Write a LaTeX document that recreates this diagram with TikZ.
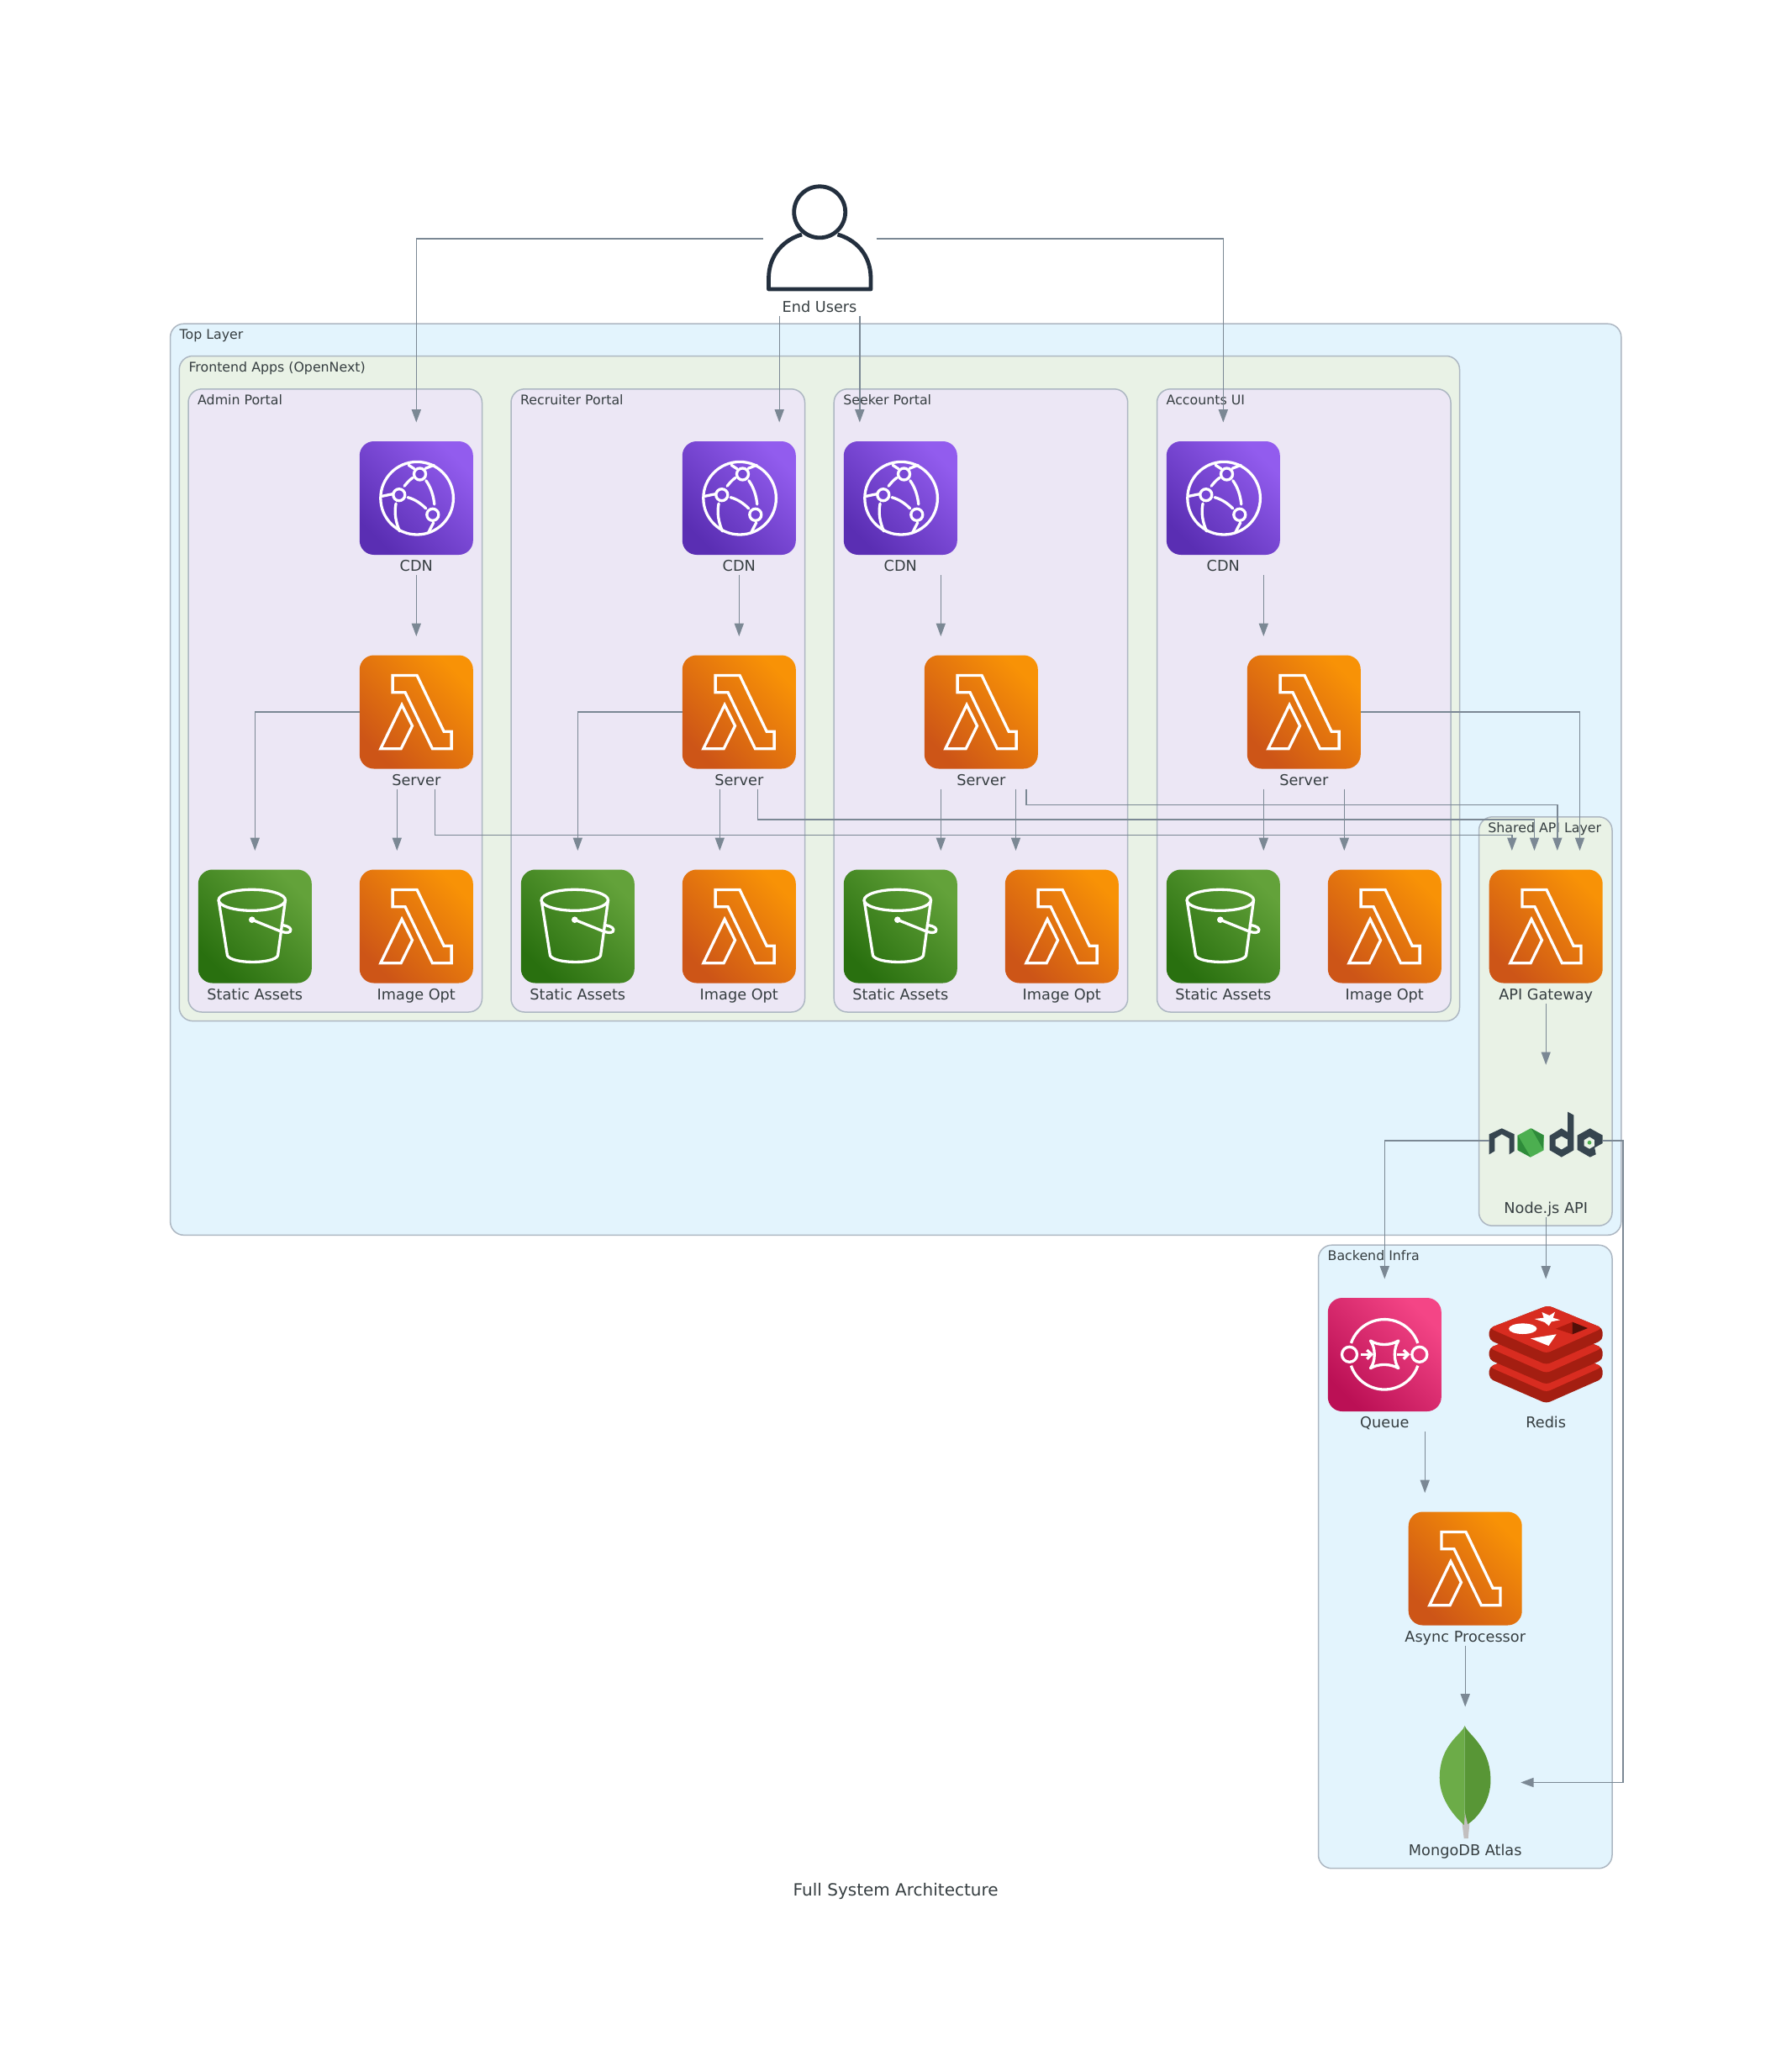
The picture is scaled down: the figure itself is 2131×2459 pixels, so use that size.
\documentclass[tikz,border=0pt]{standalone}
\usepackage{fontspec}
\setmainfont{DejaVu Sans}
\usetikzlibrary{arrows.meta}

\definecolor{edgegray}{HTML}{7B8894}
\definecolor{inkgray}{HTML}{363E41}
\definecolor{bordergray}{HTML}{ADB7C2}
\definecolor{blueback}{HTML}{E3F4FD}
\definecolor{greenback}{HTML}{E9F2E6}
\definecolor{purpleback}{HTML}{ECE7F5}
\definecolor{usernavy}{HTML}{232F3E}
\definecolor{lamlow}{HTML}{CD5517}
\definecolor{lamhigh}{HTML}{F89206}
\definecolor{cdnlow}{HTML}{5A2EB3}
\definecolor{cdnhigh}{HTML}{925CEE}
\definecolor{cdnmid}{HTML}{7646D4}
\definecolor{s3low}{HTML}{29700F}
\definecolor{s3high}{HTML}{63A23A}
\definecolor{sqslow}{HTML}{BB1055}
\definecolor{sqshigh}{HTML}{F44586}
\definecolor{redisdark}{HTML}{A41E11}
\definecolor{redislight}{HTML}{D82C20}
\definecolor{nodeink}{HTML}{36454F}
\definecolor{nodegreen}{HTML}{4CAF50}
\definecolor{nodeshade}{HTML}{2E8B3A}
\definecolor{leafleft}{HTML}{6CAC48}
\definecolor{leafright}{HTML}{589636}
\definecolor{leafstem}{HTML}{C2BFBF}

\tikzset{
  flow/.style={edgegray, line width=1.4pt, shorten >=-1.5pt, -{Triangle[length=15.3pt,width=11pt]}},
  cluster/.style={draw=bordergray, line width=1.5pt, rounded corners=16pt},
  grplbl/.style={anchor=base west, inner sep=0pt, text=inkgray, font=\fontsize{15.8pt}{18pt}\selectfont},
  lbl/.style={anchor=base, inner sep=0pt, text=inkgray, font=\fontsize{17.7pt}{20pt}\selectfont},
  svc/.style={minimum width=135pt, minimum height=135pt, inner sep=0pt, outer xsep=0pt, outer ysep=24pt, xshift=0.5pt},
  glyph/.style={draw=white, line width=3.3pt, fill=none},
  tile/.style={rounded corners=17pt, shading angle=-45},
  lambdaicon/.pic={
    \begin{scope}[shift={(-67.5,-67.5)}]
      \shade[bottom color=lamlow, top color=lamhigh, tile] (0,0) rectangle (135,135);
      \draw[glyph] (39.3,24) -- (68.3,24) -- (100.3,90.7) -- (109.3,90.7) -- (109.3,111.3) -- (86.7,111.3) -- (54.3,44.3) -- (39.3,44.3) -- cycle;
      \draw[glyph] (25,111.3) -- (50.3,59) -- (62.7,84) -- (49.3,111.3) -- cycle;
    \end{scope}
  },
  cdnicon/.pic={
    \begin{scope}[shift={(-67.5,-67.5)}]
      \shade[bottom color=cdnlow, top color=cdnhigh, tile] (0,0) rectangle (135,135);
      \draw[glyph] (68.3,67.7) circle[radius=43.3pt];
      \draw[glyph, fill=cdnmid] (71.7,39) circle[radius=7pt];
      \draw[glyph, fill=cdnmid] (47,63.7) circle[radius=7pt];
      \draw[glyph, fill=cdnmid] (87,87.3) circle[radius=7pt];
      \draw[glyph, line cap=round] (63.3,43.3) .. controls (59,46) and (56,50) .. (53.3,53.3);
      \draw[glyph, line cap=round] (79,46.7) .. controls (85,55) and (88,65) .. (89,75);
      \draw[glyph, line cap=round] (57.3,66.7) .. controls (66,69) and (73,74) .. (79,80);
      \draw[glyph, line cap=round] (26.7,65.3) -- (39.3,62.7);
      \draw[glyph, line cap=round] (43.3,74) .. controls (41,85) and (43,96) .. (47.7,107);
      \draw[glyph, line cap=round] (58.3,28.3) -- (65,32.7);
      \draw[glyph, line cap=round] (78.3,32.3) -- (88.3,28.3);
      \draw[glyph, line cap=round] (88,96.7) -- (82,108.3);
    \end{scope}
  },
  bucketicon/.pic={
    \begin{scope}[shift={(-67.5,-67.5)}]
      \shade[bottom color=s3low, top color=s3high, tile] (0,0) rectangle (135,135);
      \draw[glyph] (64,36.3) ellipse[x radius=39.7pt, y radius=12.5pt];
      \draw[glyph, line join=round] (24.3,36.3) -- (34.7,102.3) .. controls (40,112.5) and (90,112.5) .. (94.7,102.3) -- (103.7,36.3);
      \draw[glyph, line join=round] (64,59.7) -- (97,73) .. controls (105,76) and (111,75.5) .. (110,71) .. controls (109,68) and (103,66) .. (98,66);
      \fill[white] (64,59.7) circle[radius=3.8pt];
    \end{scope}
  },
  queueicon/.pic={
    \begin{scope}[shift={(-67.5,-67.5)}]
      \shade[bottom color=sqslow, top color=sqshigh, tile] (0,0) rectangle (135,135);
      \draw[glyph] (27.6,53.9) arc[start angle=161, end angle=19, radius=42pt];
      \draw[glyph] (27.6,80.7) arc[start angle=199, end angle=341, radius=42pt];
      \draw[glyph] (25.7,67.3) circle[radius=9pt];
      \draw[glyph] (109,67.3) circle[radius=9pt];
      \draw[glyph, line join=round] (50.7,51) .. controls (60,57) and (74,57) .. (84,51) .. controls (78,60) and (78,75) .. (84,83.7) .. controls (74,78) and (60,78) .. (50.7,83.7) .. controls (57,75) and (57,60) .. cycle;
      \draw[glyph] (39,67.3) -- (51,67.3);
      \draw[glyph] (46.5,62) -- (52,67.3) -- (46.5,72.6);
      \draw[glyph] (82.3,67.3) -- (94.5,67.3);
      \draw[glyph] (90,62) -- (95.5,67.3) -- (90,72.6);
    \end{scope}
  },
  redisicon/.pic={
    \begin{scope}[shift={(-67.5,-67.5)}, line join=round]
      % three layers, lowest first
      \foreach \lift in {46,23.5,0} {
        \fill[redisdark, rounded corners=5pt] (0,36+\lift) -- (70,9+\lift) -- (135,36+\lift) -- (135,50+\lift) -- (68,79.5+\lift) -- (0,50+\lift) -- cycle;
        \fill[redislight, rounded corners=5pt] (0,36+\lift) -- (70,9+\lift) -- (135,36+\lift) -- (68,66+\lift) -- cycle;
      }
      \fill[white] (54,25) -- (65,23.7) -- (62.7,17) -- (71.7,21) -- (78.3,16.7) -- (76,23.7) -- (84.3,26.3) -- (74,28.3) -- (71,33.3) -- (66,29) -- cycle;
      \fill[white] (40,36.7) ellipse[x radius=16.7pt, y radius=6.3pt];
      \fill[white] (49.3,48.3) -- (80,43.3) -- (70.7,57) -- cycle;
      \fill[redisdark!90!red] (79.3,36.7) -- (99,28.7) -- (99,43.3) -- cycle;
      \fill[black!50!redisdark] (99,28.7) -- (117.3,36) -- (99,43.3) -- cycle;
    \end{scope}
  },
  nodeicon/.pic={
    \begin{scope}[shift={(-67.5,-67.5)}]
      \fill[nodeink] (0,60) -- (15,53) -- (30,60) -- (30,80) -- (24,84) -- (24,65) -- (15,60) -- (6.7,65) -- (6.7,80) -- (0,84) -- cycle;
      \fill[nodegreen] (49.3,53) -- (65,61.3) -- (65,79) -- (49.3,87.3) -- (34,79) -- (34,61.3) -- cycle;
      \fill[nodeshade] (50,53) -- (65,61.3) -- (64,77.3) -- cycle;
      \fill[nodeshade] (34,61.3) -- (49.3,87.3) -- (34,79) -- cycle;
      \fill[nodeink, even odd rule] (93.3,33.3) -- (100.7,37.3) -- (100.7,79) -- (86,87.3) -- (79,83) -- (72,79) -- (72,61.7) -- (86,53) -- (93.3,57.5) -- cycle
        (86,62.3) -- (79,66.3) -- (79,74) -- (86,78.3) -- (93.3,74) -- (93.3,66.3) -- cycle;
      \fill[nodeink, even odd rule] (105,61.3) -- (120,53) -- (135,61.3) -- (135,70.7) -- (125.5,76) -- (127,84) -- (120,87.3) -- (105,78.7) -- cycle
        (119.3,63) -- (113,66.8) -- (113,74) -- (119.3,77.5) -- (125.5,74) -- (125.5,66.8) -- cycle;
      \fill[nodegreen] (119.3,70) circle[radius=2.4pt];
    \end{scope}
  },
  mongoicon/.pic={
    \begin{scope}[shift={(-67.5,-67.5)}]
      \fill[leafstem] (64.5,105) -- (69,105) -- (72.5,118) -- (71,134) -- (66,134) -- (64,118) -- cycle;
      \fill[leafleft] (67,0) .. controls (64,10) and (37,22) .. (37,62) .. controls (37,88) and (55,108) .. (66,118) .. controls (67,110) and (67,105) .. (67,100) -- cycle;
      \fill[leafright] (67,0) .. controls (70,10) and (97.7,24) .. (97.7,65) .. controls (97.7,90) and (82,110) .. (70.5,117) .. controls (69,110) and (67,105) .. (67,100) -- cycle;
    \end{scope}
  },
  usericon/.pic={
    \begin{scope}[shift={(-67.5,-67.5)}, draw=usernavy, line width=4.8pt, line join=round]
      \draw (67.7,35.8) circle[radius=30.5pt];
      \draw (46.5,62.5) .. controls (27,68) and (7,85) .. (7,115) -- (7,127.5) -- (128.5,127.5) -- (128.5,115) .. controls (128.5,85) and (109,68) .. (89,62.5);
    \end{scope}
  },
}

\newcommand{\svcnode}[5]{
  \node[svc] (#1) at (#2,#3) {};
  \pic at (#1) {#4};
  \node[lbl] (#1txt) at ([yshift=-87pt]#1.center) {#5};
}

\begin{document}
\begin{tikzpicture}[x=1pt, y=-1pt]
  \useasboundingbox (0,0) rectangle (2131,2459);

  % Draw clusters
  \draw[cluster, fill=blueback] (202.6,385.2) rectangle (1928.8,1469.3);
  \draw[cluster, fill=greenback] (213.3,423.5) rectangle (1736.5,1214.6);
  \draw[cluster, fill=purpleback] (224,462.8) rectangle (573.5,1204);
  \draw[cluster, fill=purpleback] (608,462.8) rectangle (957.5,1204);
  \draw[cluster, fill=purpleback] (992.2,462.8) rectangle (1341.7,1204);
  \draw[cluster, fill=purpleback] (1376.5,462.8) rectangle (1726,1204);
  \draw[cluster, fill=greenback] (1759.5,971.8) rectangle (1918,1458.2);
  \draw[cluster, fill=blueback] (1568.5,1481.2) rectangle (1918,2222.7);

  \node[grplbl] (topTxt) at (213.4,403.7) {Top Layer};
  \node[grplbl] (frontTxt) at (224.3,442) {Frontend Apps (OpenNext)};
  \node[grplbl] (adminTxt) at (235,481.3) {Admin Portal};
  \node[grplbl] (recruitTxt) at (619,481.3) {Recruiter Portal};
  \node[grplbl] (seekTxt) at (1003.2,481.3) {Seeker Portal};
  \node[grplbl] (acctTxt) at (1387.5,481.3) {Accounts UI};
  \node[grplbl] (sharedTxt) at (1770.2,990.3) {Shared API Layer};
  \node[grplbl] (backTxt) at (1579.5,1499.7) {Backend Infra};

  % Users
  \svcnode{user}{974.5}{284}{usericon}{End Users}

  % Admin portal
  \svcnode{cdnA}{494.8}{592.5}{cdnicon}{CDN}
  \svcnode{srvA}{494.8}{847}{lambdaicon}{Server}
  \svcnode{s3A}{302.8}{1102}{bucketicon}{Static Assets}
  \svcnode{imgA}{494.8}{1102}{lambdaicon}{Image Opt}

  % Recruiter portal
  \svcnode{cdnB}{878.8}{592.5}{cdnicon}{CDN}
  \svcnode{srvB}{878.8}{847}{lambdaicon}{Server}
  \svcnode{s3B}{686.8}{1102}{bucketicon}{Static Assets}
  \svcnode{imgB}{878.8}{1102}{lambdaicon}{Image Opt}

  % Seeker portal
  \svcnode{cdnC}{1070.8}{592.5}{cdnicon}{CDN}
  \svcnode{srvC}{1166.8}{847}{lambdaicon}{Server}
  \svcnode{s3C}{1070.8}{1102}{bucketicon}{Static Assets}
  \svcnode{imgC}{1262.8}{1102}{lambdaicon}{Image Opt}

  % Accounts UI
  \svcnode{cdnD}{1454.8}{592.5}{cdnicon}{CDN}
  \svcnode{srvD}{1550.8}{847}{lambdaicon}{Server}
  \svcnode{s3D}{1454.8}{1102}{bucketicon}{Static Assets}
  \svcnode{imgD}{1646.8}{1102}{lambdaicon}{Image Opt}

  % Shared API layer
  \svcnode{apigw}{1838.7}{1102}{lambdaicon}{API Gateway}
  \svcnode{nodeapi}{1838.7}{1356.8}{nodeicon}{Node.js API}

  % Backend infra
  \svcnode{queue}{1646.8}{1611.5}{queueicon}{Queue}
  \svcnode{redis}{1838.7}{1611.5}{redisicon}{Redis}
  \svcnode{async}{1742.7}{1866}{lambdaicon}{Async Processor}
  \svcnode{mongo}{1742.7}{2120.5}{mongoicon}{MongoDB Atlas}

  \node[anchor=base, inner sep=0pt, text=inkgray, font=\fontsize{20pt}{22pt}\selectfont] (titleTxt) at (1065.7,2255) {Full System Architecture};

  % Bends of the long connectors
  \coordinate (busA) at (1798.8,993.3);
  \coordinate (busB) at (1825.5,975);
  \coordinate (busC) at (1852.8,957.3);
  \coordinate (railR) at (1930.8,1700);

  % Draw connectors
  \draw[flow] (user.west) -| (cdnA.north);
  \draw[flow] (user.east) -| (cdnD.north);
  \draw[flow] ([xshift=-47.8pt]user.south) -- ([xshift=47.9pt]cdnB.north);
  \draw[flow] ([xshift=47.8pt]user.south) -- ([xshift=-48.5pt]cdnC.north);

  \draw[flow] (cdnA.south) -- (srvA.north);
  \draw[flow] (srvA.west) -| (s3A.north);
  \draw[flow] ([xshift=-23pt]srvA.south) -- ([xshift=-23pt]imgA.north);
  \draw[flow] ([xshift=22pt]srvA.south) |- (busA) -- ([xshift=-40.4pt]apigw.north);

  \draw[flow] (cdnB.south) -- (srvB.north);
  \draw[flow] (srvB.west) -| (s3B.north);
  \draw[flow] ([xshift=-23pt]srvB.south) -- ([xshift=-23pt]imgB.north);
  \draw[flow] ([xshift=22pt]srvB.south) |- (busB) -- ([xshift=-13.7pt]apigw.north);

  \draw[flow] ([xshift=48pt]cdnC.south) -- ([xshift=-48pt]srvC.north);
  \draw[flow] ([xshift=-48pt]srvC.south) -- ([xshift=48pt]s3C.north);
  \draw[flow] ([xshift=41.2pt]srvC.south) -- ([xshift=-54.8pt]imgC.north);
  \draw[flow] ([xshift=53.6pt]srvC.south) |- (busC) -- ([xshift=13.6pt]apigw.north);

  \draw[flow] ([xshift=48pt]cdnD.south) -- ([xshift=-48pt]srvD.north);
  \draw[flow] ([xshift=-48pt]srvD.south) -- ([xshift=48pt]s3D.north);
  \draw[flow] ([xshift=48pt]srvD.south) -- ([xshift=-48pt]imgD.north);
  \draw[flow] (srvD.east) -| ([xshift=40.3pt]apigw.north);

  \draw[flow] (apigw.south) -- (nodeapi.north);
  \draw[flow] (nodeapi.west) -| (queue.north);
  \draw[flow] (nodeapi.south) -- (redis.north);
  \draw[flow] (nodeapi.east) -| (railR) |- (mongo.east);
  \draw[flow] ([xshift=47.9pt]queue.south) -- ([xshift=-48pt]async.north);
  \draw[flow] (async.south) -- (mongo.north);
\end{tikzpicture}
\end{document}
